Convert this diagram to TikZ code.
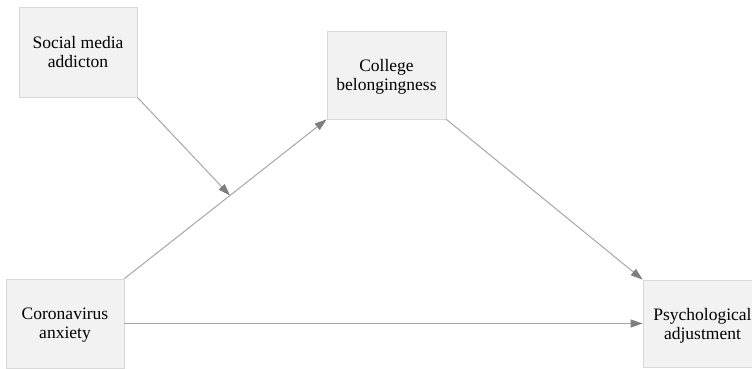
\documentclass[tikz,border=0pt]{standalone}
\usepackage{fontspec}
\setmainfont{Liberation Serif}
\usepackage{xcolor}
\usetikzlibrary{arrows.meta}

\definecolor{boxfill}{HTML}{F2F2F2}
\definecolor{boxline}{HTML}{D9D9D9}
\definecolor{linkline}{HTML}{A6A6A6}
\definecolor{tipfill}{HTML}{7F7F7F}

\begin{document}
\begin{tikzpicture}[x=1pt, y=-1pt,
  box/.style = {shape=rectangle, draw=boxline, fill=boxfill,
    align=center, inner sep=0pt, line width=0.8pt, text depth=0pt,
    font=\fontsize{17.5}{19}\selectfont},
  link/.style = {draw=linkline, line width=1pt,
    -{Triangle[length=12pt, width=8pt, color=tipfill, fill=tipfill]}}]
  \useasboundingbox (0,0) rectangle (752,369);
  \begin{scope}
  \clip (0,0) rectangle (752,369);
  \node[box, minimum width=118pt, minimum height=90pt] (soc) at (78,52) {Social media\\addicton};
  \node[box, minimum width=119pt, minimum height=88pt] (col) at (386.5,75) {College\\belongingness};
  \node[box, minimum width=118pt, minimum height=89pt] (cor) at (65,323.5) {Coronavirus\\anxiety};
  \node[box, minimum width=119pt, minimum height=87pt] (psy) at (702.5,323.5) {Psychological\\adjustment};
  \end{scope}
  % paths
  \draw[link] (cor.north east) -- (col.south west)
    coordinate[pos=0.522] (mod);
  \draw[link] (soc.south east) -- (mod);
  \draw[link] (col.south east) -- (psy.north west);
  \draw[link] (cor.east) -- (psy.west);
\end{tikzpicture}
\end{document}
